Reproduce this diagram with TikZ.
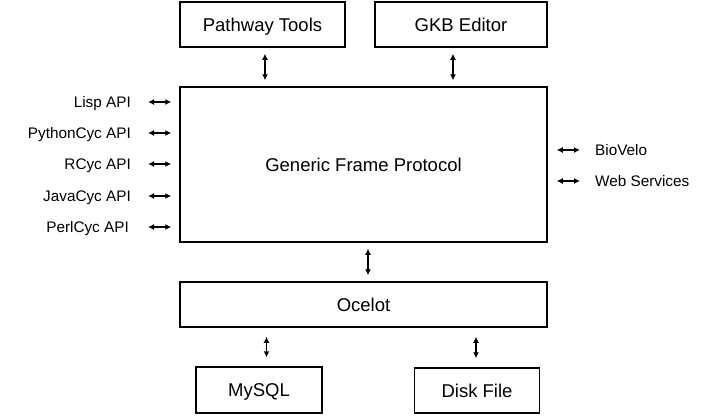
\documentclass[tikz,border=0pt]{standalone}
\usepackage{fontspec}
\setmainfont{Liberation Sans}
\usetikzlibrary{arrows.meta}
\begin{document}
\begin{tikzpicture}[x=1pt,y=-1pt,
  box/.style={draw,line width=1.5pt,inner sep=0pt,text height=13.4pt,text depth=0pt,font=\fontsize{18.5}{20}\selectfont},
  side/.style={inner sep=0pt,text height=11pt,text depth=0pt,font=\fontsize{15.3}{17}\selectfont},
  link/.style={line width=1.2pt,{Latex[length=6pt,width=6pt]}-{Latex[length=6pt,width=6pt]}}]
\useasboundingbox (0,0) rectangle (719,415);
\node[box,minimum width=165pt,minimum height=45pt] (pt) at (262.5,24.5) {Pathway Tools};
\node[box,minimum width=172pt,minimum height=45pt] (gkb) at (461,24.5) {GKB Editor};
\node[box,minimum width=367pt,minimum height=155pt] (gfp) at (363.5,164.5) {Generic Frame Protocol};
\node[box,minimum width=367pt,minimum height=45pt] (oce) at (363.5,304.5) {Ocelot};
\node[box,minimum width=126pt,minimum height=46pt] (my) at (259,390) {MySQL};
\node[box,minimum width=125pt,minimum height=45pt] (disk) at (477,390.5) {Disk File};
% vertical links
\draw[link,shorten <=6pt,shorten >=6pt] ([xshift=2.5pt]pt.south) -- ([xshift=2.5pt]pt.south |- gfp.north);
\draw[link,shorten <=6pt,shorten >=6pt] ([xshift=-8pt]gkb.south) -- ([xshift=-8pt]gkb.south |- gfp.north);
\draw[link,shorten <=6pt,shorten >=6pt] ([xshift=4.5pt]gfp.south) -- ([xshift=4.5pt]gfp.south |- oce.north);
\draw[link,shorten <=9pt,shorten >=9pt] ([xshift=7.5pt]my.north |- oce.south) -- ([xshift=7.5pt]my.north);
\draw[link,shorten <=9pt,shorten >=9pt] ([xshift=-1pt]disk.north |- oce.south) -- ([xshift=-1pt]disk.north);
% left labels
\node[side,anchor=east] (lisp) at (131,102) {Lisp API};
\node[side,anchor=east] (py) at (131,133) {PythonCyc API};
\node[side,anchor=east] (rc) at (131,164) {RCyc API};
\node[side,anchor=east] (jv) at (131,196) {JavaCyc API};
\node[side,anchor=east] (pl) at (129,227) {PerlCyc API};
\foreach \n in {lisp,py,rc,jv} {
  \draw[link,shorten <=17pt,shorten >=8pt] (\n.east) -- (\n.east -| gfp.west);
}
\draw[link,shorten <=19pt,shorten >=8pt] (pl.east) -- (pl.east -| gfp.west);
% right labels
\node[side,anchor=west] (bio) at (595,150) {BioVelo};
\node[side,anchor=west] (web) at (595,181) {Web Services};
\draw[link,shorten <=9pt,shorten >=15pt] (bio.west -| gfp.east) -- (bio.west);
\draw[link,shorten <=9pt,shorten >=15pt] (web.west -| gfp.east) -- (web.west);
\end{tikzpicture}
\end{document}
